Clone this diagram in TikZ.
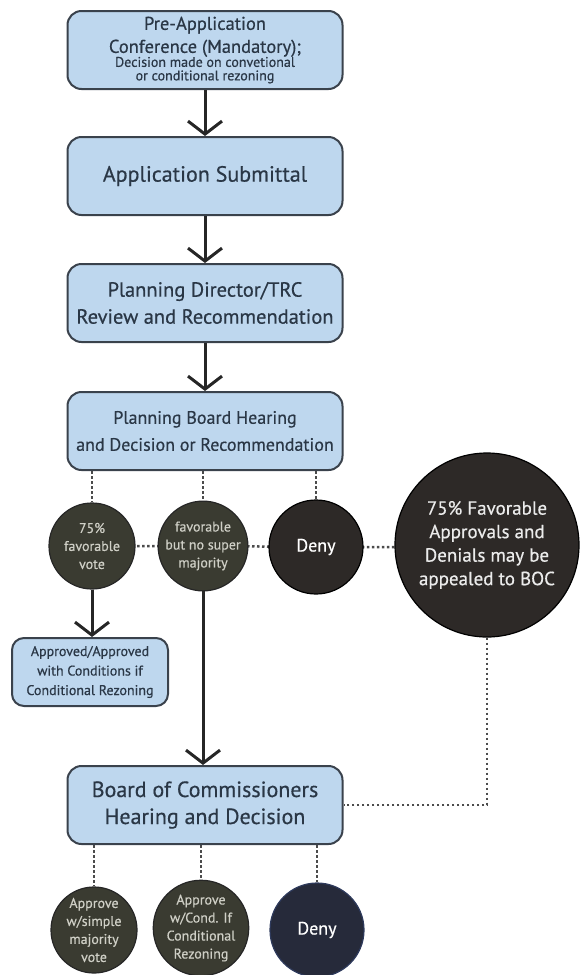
\documentclass[tikz,border=0pt]{standalone}
\usepackage{fontspec}
\setmainfont{PT Sans}[FakeBold=0.5]
\usetikzlibrary{arrows.meta,backgrounds}

\definecolor{boxfill}{HTML}{BED7EE}
\definecolor{boxline}{HTML}{3A424C}
\definecolor{boxtext}{HTML}{2A3746}
\definecolor{olivedark}{HTML}{3A3B31}
\definecolor{browndark}{HTML}{2D2927}
\definecolor{navydark}{HTML}{262A3A}
\definecolor{navyline}{HTML}{2E3A5C}
\definecolor{paletext}{HTML}{CFCFC6}

\begin{document}
\begin{tikzpicture}[x=1pt,y=-1pt,
  stage/.style={draw=boxline, line width=2pt, fill=boxfill, rounded corners=14pt,
    minimum width=275pt, minimum height=78pt, text=boxtext, align=center, inner sep=0pt},
  result/.style={stage, rounded corners=12pt, minimum width=156pt, minimum height=68pt,
    font=\fontsize{14}{19.5}\selectfont},
  vote/.style={circle, draw=black!85, line width=1.2pt, fill=olivedark, text=paletext,
    align=center, minimum size=86pt, inner sep=0pt, font=\fontsize{14}{18}\selectfont},
  denial/.style={circle, draw=black, line width=1.2pt, fill=browndark, text=white,
    minimum size=94pt, inner sep=0pt, font=\fontsize{18}{19}\selectfont},
  appeal/.style={circle, draw=black, line width=1.2pt, fill=browndark, text=white!92!black,
    align=center, minimum size=184pt, inner sep=0pt, font=\fontsize{19}{23.5}\selectfont},
  flow/.style={line width=3pt, draw=black!85, -{Straight Barb[length=13pt,width=34pt]}},
  link/.style={line width=2.5pt, draw=black!70, dash pattern=on 2.5pt off 2.5pt}
]
\useasboundingbox (0,0) rectangle (584,975);

% main stages
\node[stage, font=\fontsize{18.5}{23}\selectfont] (pre) at (205,50)
  {Pre-Application\\
   Conference (Mandatory);\\[-9pt]
   \fontsize{14}{12}\selectfont Decision made on convetional\\[-9.5pt]
   \fontsize{14}{12}\selectfont or conditional rezoning};
\node[stage, font=\fontsize{22}{27}\selectfont] (submit) at (205,176) {Application Submittal};
\node[stage, font=\fontsize{20.5}{27}\selectfont] (review) at (205,303)
  {Planning Director/TRC\\Review and Recommendation};
\node[stage, font=\fontsize{18}{27}\selectfont] (pb) at (205,431)
  {Planning Board Hearing\\and Decision or Recommendation};

% planning board outcomes
\node[vote] (pbyes) at (92,546) {75\%\\favorable\\vote};
\node[vote] (pbmid) at (203,546) {favorable\\but no super\\majority};
\node[denial] (pbno) at (316,547) {Deny};
\node[appeal] (appeal) at (487,545)
  {75\% Favorable\\Approvals and\\Denials may be\\appealed to BOC};

\node[result] (approved) at (90,672)
  {Approved/Approved\\with Conditions if\\Conditional Rezoning};

% board of commissioners
\node[stage, font=\fontsize{22}{27}\selectfont] (boc) at (205,805)
  {Board of Commissioners\\Hearing and Decision};

\node[vote] (bocsimple) at (94,930) {Approve\\w/simple\\majority\\vote};
\node[vote] (boccond) at (201,928) {Approve\\w/Cond. If\\Conditional\\Rezoning};
\node[denial, fill=navydark, draw=navyline] (bocno) at (317,930) {Deny};

% solid flow arrows
\draw[flow] (pre.south) -- (submit.north);
\draw[flow] (submit.south) -- (review.north);
\draw[flow] (review.south) -- (pb.north);
\draw[flow] (pbyes.south) -- (pbyes.south |- approved.north);
\draw[flow] (pbmid.south) -- (pbmid.south |- boc.north);

% dotted relations
\begin{scope}[on background layer]
  \draw[link] (pbyes.north |- pb.south) -- (pbyes.north);
  \draw[link] (pbmid.north |- pb.south) -- (pbmid.north);
  \draw[link] (pbno.north |- pb.south) -- (pbno.north);
  \draw[link] (pbyes.center) -- (pbmid.center) -- (pbno.center) -- (pbno.center -| appeal.west);
  \draw[link] (appeal.south) |- (boc.east);
  \draw[link] (bocsimple.north |- boc.south) -- (bocsimple.north);
  \draw[link] (boccond.north |- boc.south) -- (boccond.north);
  \draw[link] (bocno.north |- boc.south) -- (bocno.north);
\end{scope}
\end{tikzpicture}
\end{document}
